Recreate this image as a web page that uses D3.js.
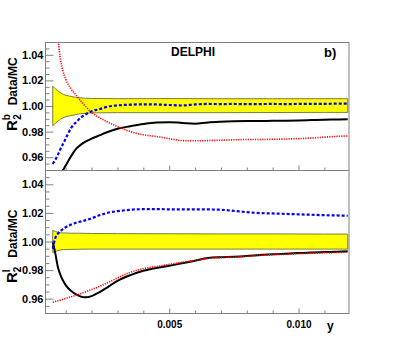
<!DOCTYPE html>
<html><head><meta charset="utf-8">
<script src="https://cdn.jsdelivr.net/npm/d3@7"></script>
<style>
body{margin:0;background:#fff}
svg{display:block}
text{font-family:"Liberation Sans",Arial,Helvetica,sans-serif;font-weight:bold;fill:#000}
</style>
</head><body>
<svg id="c" width="411" height="342"></svg>
<script>
// ---------- data ----------
const xGrid = [0.0005,0.0006,0.0007,0.0008,0.0009,0.001,0.0012,0.0014,0.0016,0.0018,0.002,0.0023,0.0026,0.003,0.0035,0.004,0.0045,0.005,0.0055,0.006,0.0065,0.007,0.0075,0.008,0.0085,0.009,0.0095,0.01,0.0105,0.011,0.0115,0.0119];

// panel b: R2^b Data/MC
const r2bBlue  = [0.9548,0.9580,0.9620,0.9665,0.9705,0.9745,0.9825,0.9873,0.9912,0.9938,0.9958,0.9975,0.9993,1.0005,1.0010,1.0013,1.0012,1.0008,1.0004,1.0012,1.0016,1.0015,1.0016,1.0014,1.0015,1.0016,1.0015,1.0016,1.0017,1.0017,1.0018,1.0018];
const r2bBlack = [0.935,0.938,0.942,0.946,0.950,0.9535,0.9605,0.9665,0.9700,0.9725,0.9745,0.9770,0.9795,0.9822,0.9842,0.9860,0.9872,0.9874,0.9868,0.9862,0.9872,0.9877,0.9880,0.9882,0.9883,0.9884,0.9885,0.9887,0.9890,0.9893,0.9895,0.9897];
const r2bRed   = [1.080,1.065,1.052,1.036,1.027,1.021,1.0135,1.0085,1.0035,0.9990,0.9950,0.9910,0.9877,0.9840,0.9800,0.9775,0.9762,0.9745,0.9730,0.9728,0.9730,0.9733,0.9736,0.9738,0.9738,0.9740,0.9742,0.9745,0.9750,0.9757,0.9763,0.9766];

// panel below: R2^l Data/MC
const r2lBlue  = [0.9950,1.0025,1.0055,1.0073,1.0088,1.0100,1.0118,1.0131,1.0141,1.0150,1.0162,1.0183,1.0200,1.0212,1.0222,1.0226,1.0226,1.0225,1.0224,1.0224,1.0224,1.0222,1.0214,1.0205,1.0199,1.0196,1.0193,1.0190,1.0187,1.0184,1.0182,1.0180];
const r2lBlack = [1.0000,0.9915,0.9820,0.9765,0.9725,0.9695,0.9655,0.9630,0.9614,0.9610,0.9618,0.9645,0.9678,0.9725,0.9765,0.9795,0.9815,0.9830,0.9848,0.9866,0.9884,0.9890,0.9893,0.9898,0.9905,0.9910,0.9915,0.9919,0.9923,0.9926,0.9929,0.9931];
const r2lRed   = [0.9575,0.9580,0.9585,0.9590,0.9596,0.9602,0.9613,0.9624,0.9636,0.9650,0.9664,0.9685,0.9710,0.9745,0.9785,0.9810,0.9825,0.9840,0.9855,0.9868,0.9882,0.9888,0.9892,0.9897,0.9903,0.9907,0.9911,0.9915,0.9918,0.9921,0.9923,0.9925];

// systematic bands
const bandX      = [0.0005,0.0007,0.0009,0.0012,0.0015,0.002,0.003,0.005,0.007,0.009,0.011,0.0119];
const r2bBandHi  = [1.0155,1.0118,1.0092,1.0075,1.0065,1.0059,1.0057,1.0058,1.0057,1.0057,1.0057,1.0057];
const r2bBandLo  = [0.9846,0.9882,0.9908,0.9925,0.9937,0.9946,0.9948,0.9948,0.9948,0.9949,0.9950,0.9950];
const r2lBandHi  = [1.0078,1.0065,1.0060,1.0058,1.0058,1.0056,1.0055,1.0054,1.0053,1.0053,1.0052,1.0052];
const r2lBandLo  = [0.9922,0.9937,0.9943,0.9945,0.9946,0.9947,0.9947,0.9947,0.9947,0.9947,0.9947,0.9947];

const yTickLabels = ["0.96","0.98","1.00","1.02","1.04"];
const xTickLabels = ["0.005","0.010"];

// ---------- drawing ----------
const svg = d3.select("#c");
const frameCol = "#808080";
const x = d3.scaleLinear().domain([0.0002, 0.01195]).range([45, 349]);

const panels = [
  {id:"pb", top:42,  bottom:170, blue:r2bBlue, black:r2bBlack, red:r2bRed, hi:r2bBandHi, lo:r2bBandLo, xlabels:false, sup:"b", titleY:131},
  {id:"pl", top:170, bottom:313, blue:r2lBlue, black:r2lBlack, red:r2lRed, hi:r2lBandHi, lo:r2lBandLo, xlabels:true,  sup:"l", titleY:283}
];

const majorY = yTickLabels.map(Number);
const minorY = d3.range(0.955, 1.0499, 0.005).map(v => +v.toFixed(3)).filter(v => !majorY.some(m => Math.abs(m - v) < 1e-6));
const majorX = xTickLabels.map(Number);
const minorX = d3.range(0.001, 0.0115, 0.001).map(v => +v.toFixed(3)).filter(v => !majorX.some(m => Math.abs(m - v) < 1e-6));

panels.forEach(p => {
  const y = d3.scaleLinear().domain([0.95, 1.05]).range([p.bottom, p.top]);
  const g = svg.append("g");

  svg.append("clipPath").attr("id", "clip-" + p.id)
    .append("rect").attr("x", 45).attr("y", p.top).attr("width", 304).attr("height", p.bottom - p.top);

  const plot = g.append("g").attr("clip-path", `url(#clip-${p.id})`);

  // band
  const bandData = bandX.map((v, i) => [v, p.lo[i], p.hi[i]]);
  plot.append("path").datum(bandData)
    .attr("d", d3.area().x(d => x(d[0])).y0(d => y(d[1])).y1(d => y(d[2])).curve(d3.curveMonotoneX))
    .attr("fill", "#ffff00").attr("stroke", "#7d7d3a").attr("stroke-width", 1);

  const line = d3.line().x(d => x(d[0])).y(d => y(d[1])).curve(d3.curveMonotoneX);
  const mk = arr => xGrid.map((v, i) => [v, arr[i]]);

  plot.append("path").datum(mk(p.black)).attr("d", line)
    .attr("fill", "none").attr("stroke", "#000").attr("stroke-width", 2);
  plot.append("path").datum(mk(p.red)).attr("d", line)
    .attr("fill", "none").attr("stroke", "#ff0000").attr("stroke-width", 1.6).attr("stroke-dasharray", "1.2,1.2");
  plot.append("path").datum(mk(p.blue)).attr("d", line)
    .attr("fill", "none").attr("stroke", "#0000ff").attr("stroke-width", 2.2).attr("stroke-dasharray", "3,2");

  // frame
  g.append("rect").attr("x", 45.5).attr("y", p.top + 0.5).attr("width", 303.5).attr("height", p.bottom - p.top)
    .attr("fill", "none").attr("stroke", frameCol).attr("stroke-width", 1);

  // y axis
  const ay = g.append("g").attr("transform", "translate(45.5,0)");
  ay.call(d3.axisLeft(y).tickValues(minorY).tickSize(-4).tickSizeOuter(0).tickFormat(""));
  ay.append("g").call(d3.axisLeft(y).tickValues(majorY).tickSize(-8).tickSizeOuter(0).tickPadding(2)
     .tickFormat((d, i) => yTickLabels[i]));
  ay.selectAll(".domain").remove();
  ay.selectAll("line").attr("stroke", frameCol);
  ay.selectAll("text").attr("font-size", 11).attr("font-family", null).attr("fill", "#000");

  // x axis
  const ax = g.append("g").attr("transform", `translate(0,${p.bottom + 0.5})`);
  ax.call(d3.axisBottom(x).tickValues(minorX).tickSize(-3).tickSizeOuter(0).tickFormat(""));
  const axm = ax.append("g").call(d3.axisBottom(x).tickValues(majorX).tickSize(-5).tickSizeOuter(0).tickPadding(7)
     .tickFormat((d, i) => p.xlabels ? xTickLabels[i] : ""));
  ax.selectAll(".domain").remove();
  ax.selectAll("line").attr("stroke", frameCol);
  ax.selectAll("text").attr("font-size", 10).attr("font-family", null).attr("fill", "#000");

  // y title
  const t = svg.append("text").attr("transform", `translate(17,${p.titleY}) rotate(-90)`);
  t.append("tspan").attr("font-size", 15).text("R");
  t.append("tspan").attr("font-size", 10).attr("dy", -7).text(p.sup);
  t.append("tspan").attr("font-size", 10).attr("dx", p.sup === "b" ? -5.8 : -2.8).attr("dy", 11).text("2");
  t.append("tspan").attr("font-size", 12).attr("dx", 9).attr("dy", -4).text("Data/MC");
});

svg.append("text").attr("x", 193).attr("y", 56).attr("text-anchor", "middle").attr("font-size", 12).text("DELPHI");
svg.append("text").attr("x", 324).attr("y", 57).attr("font-size", 13).text("b)");
svg.append("text").attr("x", 327).attr("y", 330).attr("font-size", 12).text("y");
</script>
</body></html>
